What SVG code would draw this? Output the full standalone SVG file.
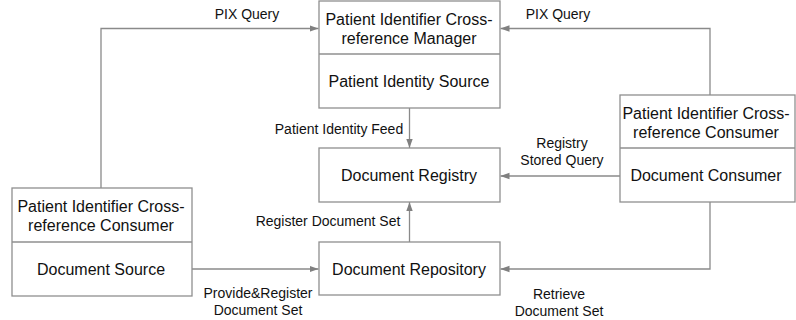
<svg xmlns="http://www.w3.org/2000/svg" width="796" height="320" viewBox="0 0 796 320">
  <style>
    .box { fill: #ffffff; stroke: #8f8f8f; stroke-width: 1.3; }
    .div { stroke: #8f8f8f; stroke-width: 1.3; }
    .node { font-family: "Liberation Sans", Arial, sans-serif; font-size: 16px; fill: #111111; text-anchor: middle; }
    .lbl { font-family: "Liberation Sans", Arial, sans-serif; font-size: 14px; fill: #111111; text-anchor: middle; }
    .wire { fill: none; stroke: #8a8a8a; stroke-width: 1.3; marker-end: url(#head); }
  </style>
  <defs>
    <marker id="head" markerUnits="userSpaceOnUse" markerWidth="9" markerHeight="8" viewBox="0 0 9 8" refX="9" refY="4" orient="auto">
      <path d="M0,0.8 L9,4 L0,7.2 Z" fill="#808080"/>
    </marker>
  </defs>

  <rect width="796" height="320" fill="#ffffff"/>

  <!-- connectors -->
  <g id="connectors">
    <path class="wire" d="M101,188 V28.5 H318.5"/>
    <path class="wire" d="M710,95 V28.5 H500.5"/>
    <path class="wire" d="M409.5,108 V148"/>
    <path class="wire" d="M620,176 H500.5"/>
    <path class="wire" d="M409.5,242 V202"/>
    <path class="wire" d="M192,269 H318.5"/>
    <path class="wire" d="M710,202 V269 H500.5"/>

    <text class="lbl" x="247" y="19">PIX Query</text>
    <text class="lbl" x="558" y="19">PIX Query</text>
    <text class="lbl" x="339" y="134">Patient Identity Feed</text>
    <text class="lbl" x="562" y="148">Registry</text>
    <text class="lbl" x="562" y="165">Stored Query</text>
    <text class="lbl" x="328" y="226">Register Document Set</text>
    <text class="lbl" x="258" y="298">Provide&amp;Register</text>
    <text class="lbl" x="258" y="315">Document Set</text>
    <text class="lbl" x="559" y="299">Retrieve</text>
    <text class="lbl" x="559" y="316">Document Set</text>
  </g>

  <!-- PIX manager / identity source -->
  <g id="pix-manager">
    <rect class="box" x="319" y="1" width="181" height="107"/>
    <line class="div" x1="319" y1="54" x2="500" y2="54"/>
    <text class="node" x="409" y="25">Patient Identifier Cross-</text>
    <text class="node" x="409" y="44">reference Manager</text>
    <text class="node" x="409" y="87">Patient Identity Source</text>
  </g>

  <g id="document-registry">
    <rect class="box" x="319" y="148" width="181" height="54"/>
    <text class="node" x="409" y="181">Document Registry</text>
  </g>

  <g id="document-repository">
    <rect class="box" x="319" y="242" width="181" height="53"/>
    <text class="node" x="409" y="274.5">Document Repository</text>
  </g>

  <g id="document-source">
    <rect class="box" x="12" y="188" width="180" height="108"/>
    <line class="div" x1="12" y1="242" x2="192" y2="242"/>
    <text class="node" x="101" y="212">Patient Identifier Cross-</text>
    <text class="node" x="101" y="231">reference Consumer</text>
    <text class="node" x="101" y="275">Document Source</text>
  </g>

  <g id="document-consumer">
    <rect class="box" x="620" y="95" width="175" height="107"/>
    <line class="div" x1="620" y1="148" x2="795" y2="148"/>
    <text class="node" x="706" y="119">Patient Identifier Cross-</text>
    <text class="node" x="706" y="138">reference Consumer</text>
    <text class="node" x="706" y="181">Document Consumer</text>
  </g>
</svg>
